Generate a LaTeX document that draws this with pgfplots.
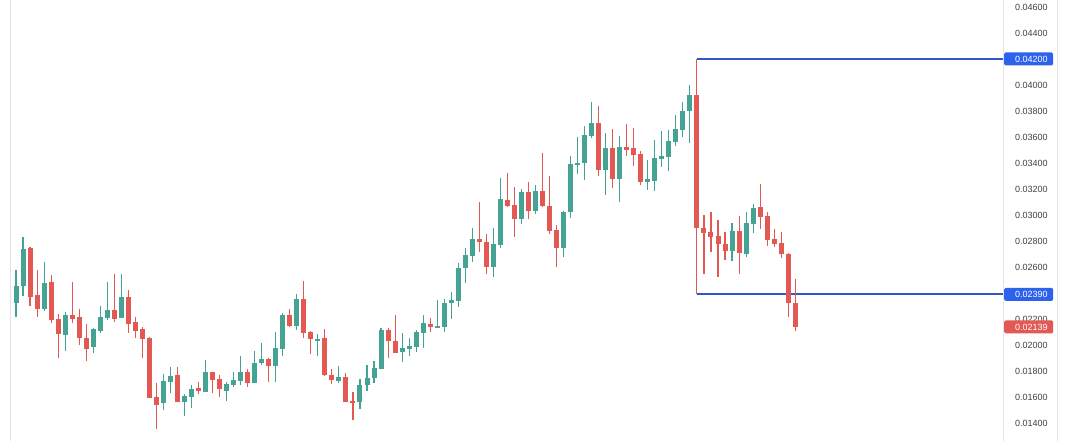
\documentclass[border=0pt]{standalone}
\usepackage{fontspec}
\setmainfont{Liberation Sans}
\usepackage{pgfplots}
\pgfplotsset{compat=1.18}
\usepackage{pgfplotstable}

\definecolor{upc}{RGB}{68,163,147}
\definecolor{dnc}{RGB}{226,88,82}
\definecolor{lineblue}{RGB}{48,86,204}
\definecolor{boxblue}{RGB}{44,98,236}
\definecolor{bordergray}{RGB}{225,227,232}
\definecolor{labelgray}{RGB}{64,64,64}

% k open high low close
\pgfplotstableread{
k o h l c
0 0.02323 0.02577 0.02215 0.02454
1 0.02454 0.02831 0.02377 0.02738
2 0.02746 0.02750 0.02300 0.02369
3 0.02385 0.02577 0.02215 0.02277
4 0.02277 0.02638 0.02262 0.02477
5 0.02485 0.02538 0.02169 0.02192
6 0.02200 0.02238 0.01900 0.02085
7 0.02077 0.02254 0.01954 0.02231
8 0.02231 0.02485 0.02169 0.02200
9 0.02215 0.02277 0.02000 0.02054
10 0.02054 0.02162 0.01877 0.01969
11 0.01985 0.02131 0.01938 0.02123
12 0.02108 0.02300 0.02092 0.02215
13 0.02208 0.02485 0.02192 0.02269
14 0.02269 0.02546 0.02177 0.02200
15 0.02208 0.02546 0.02205 0.02369
16 0.02369 0.02423 0.02092 0.02162
17 0.02177 0.02215 0.02054 0.02108
18 0.02123 0.02138 0.01900 0.02046
19 0.02054 0.02062 0.01590 0.01592
20 0.01600 0.01708 0.01354 0.01538
21 0.01554 0.01777 0.01500 0.01723
22 0.01715 0.01831 0.01631 0.01762
23 0.01769 0.01831 0.01560 0.01562
24 0.01562 0.01623 0.01454 0.01608
25 0.01600 0.01692 0.01515 0.01662
26 0.01669 0.01715 0.01623 0.01646
27 0.01638 0.01885 0.01635 0.01792
28 0.01792 0.01795 0.01631 0.01731
29 0.01738 0.01769 0.01600 0.01662
30 0.01646 0.01715 0.01569 0.01700
31 0.01692 0.01792 0.01677 0.01731
32 0.01723 0.01915 0.01692 0.01792
33 0.01792 0.01815 0.01677 0.01708
34 0.01708 0.01954 0.01705 0.01862
35 0.01862 0.02015 0.01846 0.01892
36 0.01892 0.01900 0.01715 0.01838
37 0.01838 0.02100 0.01715 0.01977
38 0.01969 0.02246 0.01915 0.02231
39 0.02231 0.02277 0.02138 0.02146
40 0.02146 0.02392 0.02115 0.02354
41 0.02354 0.02492 0.02054 0.02092
42 0.02100 0.02104 0.01931 0.02046
43 0.02038 0.02085 0.01915 0.02046
44 0.02054 0.02123 0.01765 0.01769
45 0.01769 0.01815 0.01700 0.01731
46 0.01723 0.01838 0.01708 0.01754
47 0.01754 0.01785 0.01560 0.01562
48 0.01569 0.01638 0.01423 0.01554
49 0.01562 0.01738 0.01508 0.01692
50 0.01692 0.01846 0.01646 0.01746
51 0.01746 0.01877 0.01708 0.01823
52 0.01815 0.02131 0.01812 0.02115
53 0.02115 0.02131 0.01900 0.02031
54 0.02031 0.02231 0.01935 0.01938
55 0.01946 0.02092 0.01869 0.01977
56 0.01969 0.02054 0.01915 0.01992
57 0.01985 0.02115 0.01946 0.02100
58 0.02092 0.02231 0.01977 0.02169
59 0.02162 0.02208 0.02100 0.02138
60 0.02138 0.02346 0.02131 0.02146
61 0.02138 0.02354 0.02100 0.02323
62 0.02323 0.02408 0.02200 0.02346
63 0.02338 0.02631 0.02292 0.02592
64 0.02592 0.02746 0.02477 0.02692
65 0.02685 0.02900 0.02638 0.02815
66 0.02815 0.03100 0.02715 0.02792
67 0.02792 0.02854 0.02546 0.02600
68 0.02600 0.02900 0.02523 0.02777
69 0.02769 0.03285 0.02746 0.03123
70 0.03115 0.03323 0.03062 0.03069
71 0.03077 0.03215 0.02831 0.02969
72 0.02969 0.03200 0.02931 0.03177
73 0.03177 0.03254 0.02969 0.03031
74 0.03031 0.03231 0.03008 0.03185
75 0.03185 0.03477 0.03062 0.03069
76 0.03069 0.03300 0.02854 0.02877
77 0.02885 0.02923 0.02600 0.02746
78 0.02746 0.03027 0.02677 0.03023
79 0.03023 0.03454 0.02977 0.03392
80 0.03392 0.03600 0.03315 0.03400
81 0.03400 0.03685 0.03269 0.03615
82 0.03608 0.03869 0.03592 0.03708
83 0.03708 0.03838 0.03300 0.03346
84 0.03346 0.03631 0.03154 0.03515
85 0.03515 0.03662 0.03208 0.03277
86 0.03277 0.03608 0.03100 0.03523
87 0.03523 0.03700 0.03454 0.03500
88 0.03515 0.03669 0.03377 0.03462
89 0.03469 0.03492 0.03231 0.03254
90 0.03254 0.03423 0.03192 0.03277
91 0.03262 0.03577 0.03185 0.03438
92 0.03431 0.03646 0.03369 0.03454
93 0.03446 0.03654 0.03338 0.03569
94 0.03562 0.03769 0.03531 0.03662
95 0.03654 0.03869 0.03600 0.03800
96 0.03800 0.04000 0.03554 0.03923
97 0.03923 0.04200 0.02390 0.02900
98 0.02900 0.03000 0.02546 0.02862
99 0.02869 0.03023 0.02715 0.02831
100 0.02838 0.02962 0.02523 0.02777
101 0.02777 0.02869 0.02654 0.02723
102 0.02723 0.02938 0.02646 0.02877
103 0.02877 0.02992 0.02546 0.02708
104 0.02700 0.03023 0.02677 0.02938
105 0.02931 0.03085 0.02862 0.03054
106 0.03062 0.03238 0.02892 0.02985
107 0.02992 0.03023 0.02762 0.02808
108 0.02815 0.02892 0.02754 0.02777
109 0.02785 0.02869 0.02669 0.02700
110 0.02700 0.02704 0.02215 0.02323
111 0.02323 0.02508 0.02108 0.02139
}\candles

\newcommand\lblfont{\fontsize{9}{10}\selectfont}

\begin{document}
\begin{tikzpicture}
\begin{axis}[
  at={(10pt,0pt)}, anchor=south west,
  scale only axis, width=993pt, height=441pt,
  xmin=-0.855, xmax=140.6, ymin=0.012615, ymax=0.046538,
  axis line style={draw=none},
  xtick=\empty,
  ytick={0.014,0.016,0.018,0.020,0.022,0.026,0.028,0.030,0.032,0.034,0.036,0.038,0.040,0.044,0.046},
  yticklabels={0.01400,0.01600,0.01800,0.02000,0.02200,0.02600,0.02800,0.03000,0.03200,0.03400,0.03600,0.03800,0.04000,0.04400,0.04600},
  yticklabel pos=right,
  major tick length=0pt,
  yticklabel style={anchor=west, inner sep=0pt, xshift=12pt, font=\lblfont, text=labelgray},
  clip mode=individual,
]
\draw[bordergray] (rel axis cs:0,0) -- (rel axis cs:0,1);
\draw[bordergray] (rel axis cs:1,0) -- (rel axis cs:1,1);

% high / low of the big candle
\addplot[lineblue, line width=1.6pt, forget plot] coordinates {(97,0.042) (140.6,0.042)};
\addplot[lineblue, line width=1.6pt, forget plot] coordinates {(97,0.0239) (140.6,0.0239)};

% wicks
\addplot[only marks, mark options={draw opacity=0, fill opacity=0}, mark size=0pt, forget plot,
  restrict expr to domain={\thisrow{c}-\thisrow{o}}{0:1},
  error bars/.cd, y dir=both, y explicit, error mark=none,
  error bar style={draw=upc, draw opacity=1, line width=1.1pt}]
  table[x=k, y expr={(\thisrow{h}+\thisrow{l})/2}, y error expr={(\thisrow{h}-\thisrow{l})/2}] {\candles};
\addplot[only marks, mark options={draw opacity=0, fill opacity=0}, mark size=0pt, forget plot,
  restrict expr to domain={\thisrow{c}-\thisrow{o}}{-1:-0.000001},
  error bars/.cd, y dir=both, y explicit, error mark=none,
  error bar style={draw=dnc, draw opacity=1, line width=1.1pt}]
  table[x=k, y expr={(\thisrow{h}+\thisrow{l})/2}, y error expr={(\thisrow{h}-\thisrow{l})/2}] {\candles};
% bodies
\addplot[only marks, mark options={draw opacity=0, fill opacity=0}, mark size=0pt, forget plot,
  restrict expr to domain={\thisrow{c}-\thisrow{o}}{0:1},
  error bars/.cd, y dir=both, y explicit, error mark=none,
  error bar style={draw=upc, draw opacity=1, line width=5pt}]
  table[x=k, y expr={(\thisrow{o}+\thisrow{c})/2}, y error expr={abs(\thisrow{c}-\thisrow{o})/2}] {\candles};
\addplot[only marks, mark options={draw opacity=0, fill opacity=0}, mark size=0pt, forget plot,
  restrict expr to domain={\thisrow{c}-\thisrow{o}}{-1:-0.000001},
  error bars/.cd, y dir=both, y explicit, error mark=none,
  error bar style={draw=dnc, draw opacity=1, line width=5pt}]
  table[x=k, y expr={(\thisrow{o}+\thisrow{c})/2}, y error expr={abs(\thisrow{c}-\thisrow{o})/2}] {\candles};

\coordinate (ba) at (axis cs:140.6,0.042);
\coordinate (bb) at (axis cs:140.6,0.0239);
\coordinate (bc) at (axis cs:140.6,0.02139);
\end{axis}

\draw[bordergray] (1057pt,0pt) -- (1057pt,441pt);
\foreach \p/\t/\col in {ba/0.04200/boxblue, bb/0.02390/boxblue, bc/0.02139/dnc}{
  \node[fill=\col, rounded corners=1.5pt, minimum width=49pt, minimum height=13pt,
        inner sep=0pt, anchor=west] at ([xshift=1pt]\p) {};
  \node[text=white, anchor=west, inner sep=0pt, font=\lblfont] at ([xshift=12pt]\p) {\t};
}
\pgfresetboundingbox
\path[use as bounding box] (0pt,0pt) rectangle (1068pt,441pt);
\end{tikzpicture}
\end{document}
